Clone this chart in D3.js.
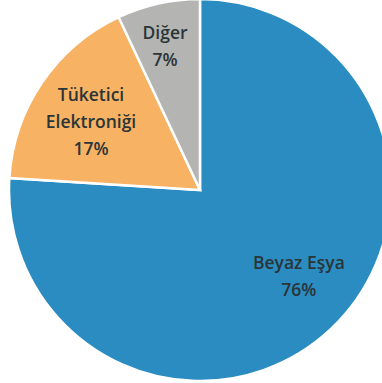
<!DOCTYPE html>
<html>
<head>
<meta charset="utf-8">
<script src="https://cdn.jsdelivr.net/npm/d3@7"></script>
<style>
  body { margin: 0; background: #fff; }
</style>
</head>
<body>
<div id="chart"></div>
<script>
// dilim verileri
let categories = ["Beyaz Eşya", "Tüketici Elektroniği", "Diğer"]
let values = [76, 17, 7]
let labelLines = [["Beyaz Eşya", "76%"], ["Tüketici", "Elektroniği", "17%"], ["Diğer", "7%"]]
let colors = ["#2a8cc0", "#f7b263", "#b4b4b2"]

let width = 382, height = 383
let cx = 200, cy = 190, radius = 191

let svg = d3.select("#chart")
    .append("svg")
    .attr("width", width)
    .attr("height", height)

let g = svg.append("g")
    .attr("transform", "translate(" + cx + "," + cy + ")")

let pie = d3.pie().sort(null).value(d => d)
let arcs = pie(values)

let arc = d3.arc().innerRadius(0).outerRadius(radius)

g.selectAll(".slice")
    .data(arcs)
    .enter()
    .append("path")
    .attr("class", "slice")
    .attr("d", arc)
    .attr("fill", (d, i) => colors[i])
    .attr("stroke", "#fff")
    .attr("stroke-width", 2.5)

// label placement: fraction of radius + small angle shift (degrees)
let labelRadius = [0.686, 0.673, 0.773]
let labelShift = [-5.8, -2.2, -1.1]
let lineH = 27

let labels = g.selectAll(".lbl")
    .data(arcs)
    .enter()
    .append("text")
    .attr("class", "lbl")
    .attr("text-anchor", "middle")
    .style("font-family", "'Open Sans', sans-serif")
    .style("font-size", "17.5px")
    .style("font-weight", "600")
    .style("fill", "#2b3538")
    .attr("transform", function (d, i) {
        let a = (d.startAngle + d.endAngle) / 2 + labelShift[i] * Math.PI / 180
        let r = radius * labelRadius[i]
        let n = labelLines[i].length
        let x = Math.sin(a) * r
        let y = -Math.cos(a) * r - (n - 1) * lineH / 2
        return "translate(" + x + "," + y + ")"
    })

labels.each(function (d, i) {
    d3.select(this).selectAll("tspan")
        .data(labelLines[i])
        .enter()
        .append("tspan")
        .attr("x", 0)
        .attr("y", (t, j) => j * lineH)
        .attr("dy", "0.35em")
        .text(t => t)
})
</script>
</body>
</html>
